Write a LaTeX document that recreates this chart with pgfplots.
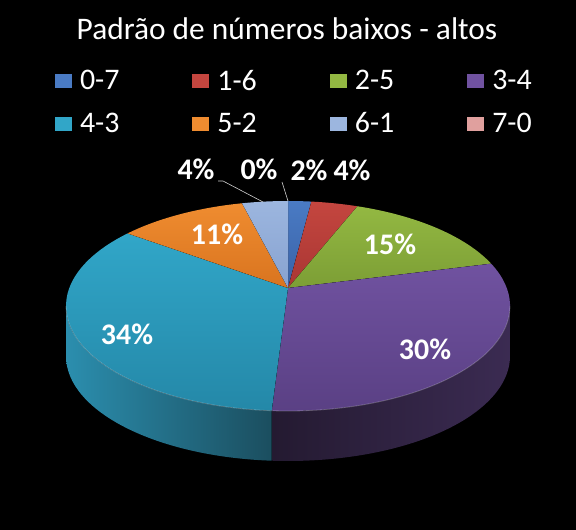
\documentclass[border=0pt]{standalone}
\usepackage{pgfplots}
\pgfplotsset{compat=1.18}
\usepackage{pgfplotstable}
\usepackage{fontspec}
\setmainfont{Carlito}
\usetikzlibrary{calc}

% slice colours: top face (light, dark), side (left, right)
\definecolor{s1t}{HTML}{4A7BC4}\definecolor{s1b}{HTML}{3961A6}
\definecolor{s2t}{HTML}{C4463F}\definecolor{s2b}{HTML}{A93633}
\definecolor{s3t}{HTML}{93B842}\definecolor{s3b}{HTML}{7C9E35}
\definecolor{s4t}{HTML}{7052A0}\definecolor{s4b}{HTML}{5A4084}
\definecolor{s5t}{HTML}{31A6C8}\definecolor{s5b}{HTML}{2488A8}
\definecolor{s6t}{HTML}{EF8C30}\definecolor{s6b}{HTML}{D9741F}
\definecolor{s7t}{HTML}{9CB6DF}\definecolor{s7b}{HTML}{87A2D0}
\definecolor{s8t}{HTML}{E0A09E}\definecolor{s8b}{HTML}{CC8A88}
\definecolor{s4l}{HTML}{241A31}\definecolor{s4r}{HTML}{3B2B52}
\definecolor{s5l}{HTML}{2B8EAE}\definecolor{s5r}{HTML}{1B4E5F}
\definecolor{leader}{HTML}{D0D0D0}

\pgfplotstableread{
pct name
2   0-7
4   1-6
15  2-5
30  3-4
34  4-3
11  5-2
4   6-1
0   7-0
}\piedata

% angle on the drawn ellipse for a slice boundary theta (clockwise from top),
% with a little perspective so the far side is squeezed
\newcommand\phiof[2]{%
  \pgfmathsetmacro\pu{sin(#1)}%
  \pgfmathsetmacro\pv{cos(#1)}%
  \pgfmathsetmacro\pd{1+0.1715*\pv}%
  \pgfmathsetmacro\px{218.7*\pu/\pd/222}%
  \pgfmathsetmacro\py{(101.9*\pv/\pd+18)/105}%
  \pgfmathsetmacro\ps{atan2(\py,\px)}%
  \pgfmathsetmacro#2{90-#1+Mod(\ps-90+#1+540,360)-180}}

\begin{document}
\begin{tikzpicture}
\begin{axis}[
  width=576bp, height=530bp, scale only axis,
  xmin=0, xmax=576, ymin=0, ymax=530, y dir=reverse,
  hide axis, clip=false,
  legend columns=4,
  legend image code/.code={\fill[#1] (0bp,-7bp) rectangle (17bp,7bp);},
  legend style={at={(axis cs:55,70)}, anchor=north west,
    draw=none, fill=none, inner sep=0pt, outer sep=0pt,
    text=white, font=\fontsize{30}{36}\selectfont,
    nodes={inner sep=0pt, text=white},
    row sep=21bp,
    /tikz/every odd column/.append style={column sep=8bp},
    /tikz/every even column/.append style={column sep=73bp}},
]
\pgfplotsextra{
  \fill[black] (axis cs:0,0) rectangle (axis cs:576,530);
  \coordinate (A) at (axis cs:288,288);
  \coordinate (T) at (axis cs:288,306);
  \gdef\cum{0}
  \foreach \i in {0,...,7}{
    \pgfplotstablegetelem{\i}{pct}\of\piedata
    \pgfmathsetmacro\tha{3.6*\cum}
    \pgfmathsetmacro\thb{3.6*(\cum+\pgfplotsretval)}
    \phiof{\tha}{\fa}\phiof{\thb}{\fb}
    \expandafter\xdef\csname fa\i\endcsname{\fa}
    \expandafter\xdef\csname fb\i\endcsname{\fb}
    \pgfmathsetmacro\newcum{\cum+\pgfplotsretval}
    \xdef\cum{\newcum}
  }
  % front sides (only slices 3-4 and 4-3 reach the front)
  \foreach \i/\sl/\sr in {3/s4l/s4r, 4/s5l/s5r}{
    \pgfmathsetmacro\hi{min(\csname fa\i\endcsname,0)}
    \pgfmathsetmacro\lo{max(\csname fb\i\endcsname,-180)}
    \fill[left color=\sl, right color=\sr]
      ($(T)+(\hi:222bp and 105bp)$)
      arc[start angle=\hi, end angle=\lo, x radius=222bp, y radius=105bp]
      -- ++(0,-50bp)
      arc[start angle=\lo, end angle=\hi, x radius=222bp, y radius=105bp]
      -- cycle;
  }
  % top faces
  \foreach \i/\ct/\cb in {0/s1t/s1b, 1/s2t/s2b, 2/s3t/s3b, 3/s4t/s4b,
                          4/s5t/s5b, 5/s6t/s6b, 6/s7t/s7b}{
    \edef\fa{\csname fa\i\endcsname}\edef\fb{\csname fb\i\endcsname}
    \fill[top color=\ct, bottom color=\cb]
      (A) -- ($(T)+(\fa:222bp and 105bp)$)
      arc[start angle=\fa, end angle=\fb, x radius=222bp, y radius=105bp]
      -- cycle;
  }
  \draw[white, opacity=0.25, line width=0.8bp]
    ($(T)+(180:222bp and 105bp)$)
    arc[start angle=180, end angle=360, x radius=222bp, y radius=105bp];
  % leader lines
  \draw[leader, line width=0.6bp] (axis cs:218,181) -- (axis cs:223,181) -- (axis cs:263,202);
  \draw[leader, line width=0.6bp] (axis cs:282,182) -- (axis cs:288,201);
  % data labels
  \begin{scope}[every node/.style={anchor=base, text=white,
      font=\fontsize{30}{36}\selectfont\bfseries, inner sep=0pt}]
    \node at (axis cs:309,181) {2\%};
    \node at (axis cs:352,181) {4\%};
    \node at (axis cs:390,255) {15\%};
    \node at (axis cs:425,360) {30\%};
    \node at (axis cs:127,345) {34\%};
    \node at (axis cs:217,245) {11\%};
    \node at (axis cs:196,180) {4\%};
    \node at (axis cs:259,180) {0\%};
  \end{scope}
  \node[anchor=base, text=white, font=\fontsize{31.5}{36}\selectfont]
    at (axis cs:287,40) {Padrão de números baixos - altos};
}
\addlegendimage{fill=s1t, draw=none}
\addlegendimage{fill=s2t, draw=none}
\addlegendimage{fill=s3t, draw=none}
\addlegendimage{fill=s4t, draw=none}
\addlegendimage{fill=s5t, draw=none}
\addlegendimage{fill=s6t, draw=none}
\addlegendimage{fill=s7t, draw=none}
\addlegendimage{fill=s8t, draw=none}
\legend{0-7,1-6,2-5,3-4,4-3,5-2,6-1,7-0}
\end{axis}
\end{tikzpicture}
\end{document}
